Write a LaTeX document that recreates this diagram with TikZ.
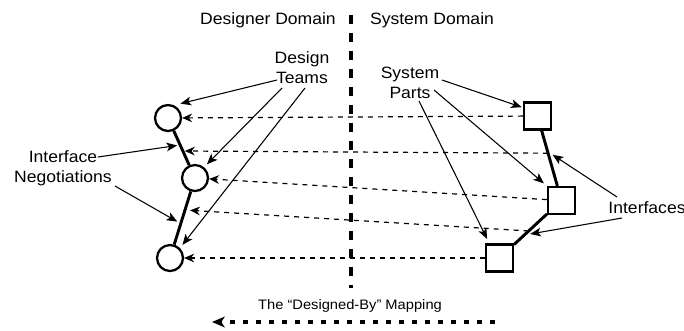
\documentclass[tikz,border=0pt]{standalone}
\usepackage{fontspec}
\setmainfont{Liberation Sans}[FakeStretch=1.07]
\usepackage{tikz}
\usetikzlibrary{arrows.meta, calc, positioning}

\tikzset{
  team/.style={circle, draw, line width=1.7pt, minimum size=19.5pt, inner sep=0pt},
  part/.style={rectangle, draw, line width=1.8pt, minimum size=20pt, inner sep=0pt},
  link/.style={line width=2.2pt},
  lbl/.style={font=\fontsize{12.3}{15}\selectfont, align=center, inner sep=1pt},
  callout/.style={line width=0.8pt, -{Stealth[length=8pt, width=6.5pt, inset=2pt]}},
  maps/.style={line width=0.9pt, dash pattern=on 3.75pt off 3.75pt, -{Stealth[length=7.5pt, width=6.5pt, inset=2.5pt]}},
  bigmap/.style={line width=2.3pt, dash pattern=on 3.75pt off 6pt, -{Stealth[length=9.5pt, width=8pt, inset=2.5pt]}},
}

\begin{document}
\begin{tikzpicture}[x=0.75pt, y=-0.75pt]
  \useasboundingbox (0,0) rectangle (684,330);
  % two domains
  \node[lbl] (desdom) at (268,20) {Designer Domain};
  \node[lbl] (sysdom) at (432,20) {System Domain};
  \draw[line width=2.3pt, dash pattern=on 6.75pt off 6.75pt] (351,15) -- (351,288);

  \node[team] (team1) at (168,118) {};
  \node[team] (team2) at (195,178) {};
  \node[team] (team3) at (170,258) {};
  \node[part] (part1) at (537.5,116) {};
  \node[part] (part2) at (561.5,200.5) {};
  \node[part] (part3) at (499.5,258) {};
  \draw[link] (team1) -- (team2) -- (team3);
  \draw[link] (part1) -- (part2) -- (part3);

  \node[lbl] (teams) at (302,68) {Design\\Teams};
  \node[lbl] (parts) at (410,83) {System\\Parts};
  \node[lbl] (negs) at (63,168) {Interface\\Negotiations};
  \node[lbl] (ifaces) at (647,208) {Interfaces};
  \node[font=\fontsize{10.3}{12.4}\selectfont] (mapping) at (350,306) {The “Designed-By” Mapping};

  % designed-by
  \draw[maps] (part1) -- (team1);
  \draw[maps, shorten >=1.5pt] ($(part1)!0.44!(part2)$) -- ($(team1)!0.55!(team2)$);
  \draw[maps] (part2) -- (team2);
  \draw[maps, shorten >=3.75pt] ($(part2)!0.53!(part3)$) -- ($(team2)!0.4!(team3)$);
  \draw[maps] (part3) -- (team3);

  \draw[callout, shorten >=5pt] ([shift={(-25,12)}]teams.center) -- (team1.65);
  \draw[callout, shorten >=3pt] ([shift={(-20,20)}]teams.center) -- (team2.50);
  \draw[callout, shorten >=3pt] ([shift={(3,20)}]teams.center) -- (team3.45);
  \draw[callout, shorten >=2.25pt] ([shift={(35,-11)}]negs.center) -- ($(team1)!0.45!(team2)$);
  \draw[callout, shorten >=3pt] ([shift={(52,18)}]negs.center) -- ($(team2)!0.57!(team3)$);
  \draw[callout, shorten >=1pt] ([shift={(32,-3)}]parts.center) -- (part1.150);
  \draw[callout, shorten >=3pt] ([shift={(24,7)}]parts.center) -- (part2.north west);
  \draw[callout, shorten >=3.75pt] ([shift={(9,18)}]parts.center) -- (part3.125);
  \draw[callout, shorten >=4.5pt] ([shift={(-30,-11)}]ifaces.center) -- ($(part1)!0.42!(part2)$);
  \draw[callout, shorten >=4.5pt] ([shift={(-25,10)}]ifaces.center) -- ($(part2)!0.6!(part3)$);

  \coordinate (mapR) at (495,322);
  \coordinate (mapL) at (212,322);
  \draw[bigmap] (mapR) -- (mapL);
\end{tikzpicture}
\end{document}
